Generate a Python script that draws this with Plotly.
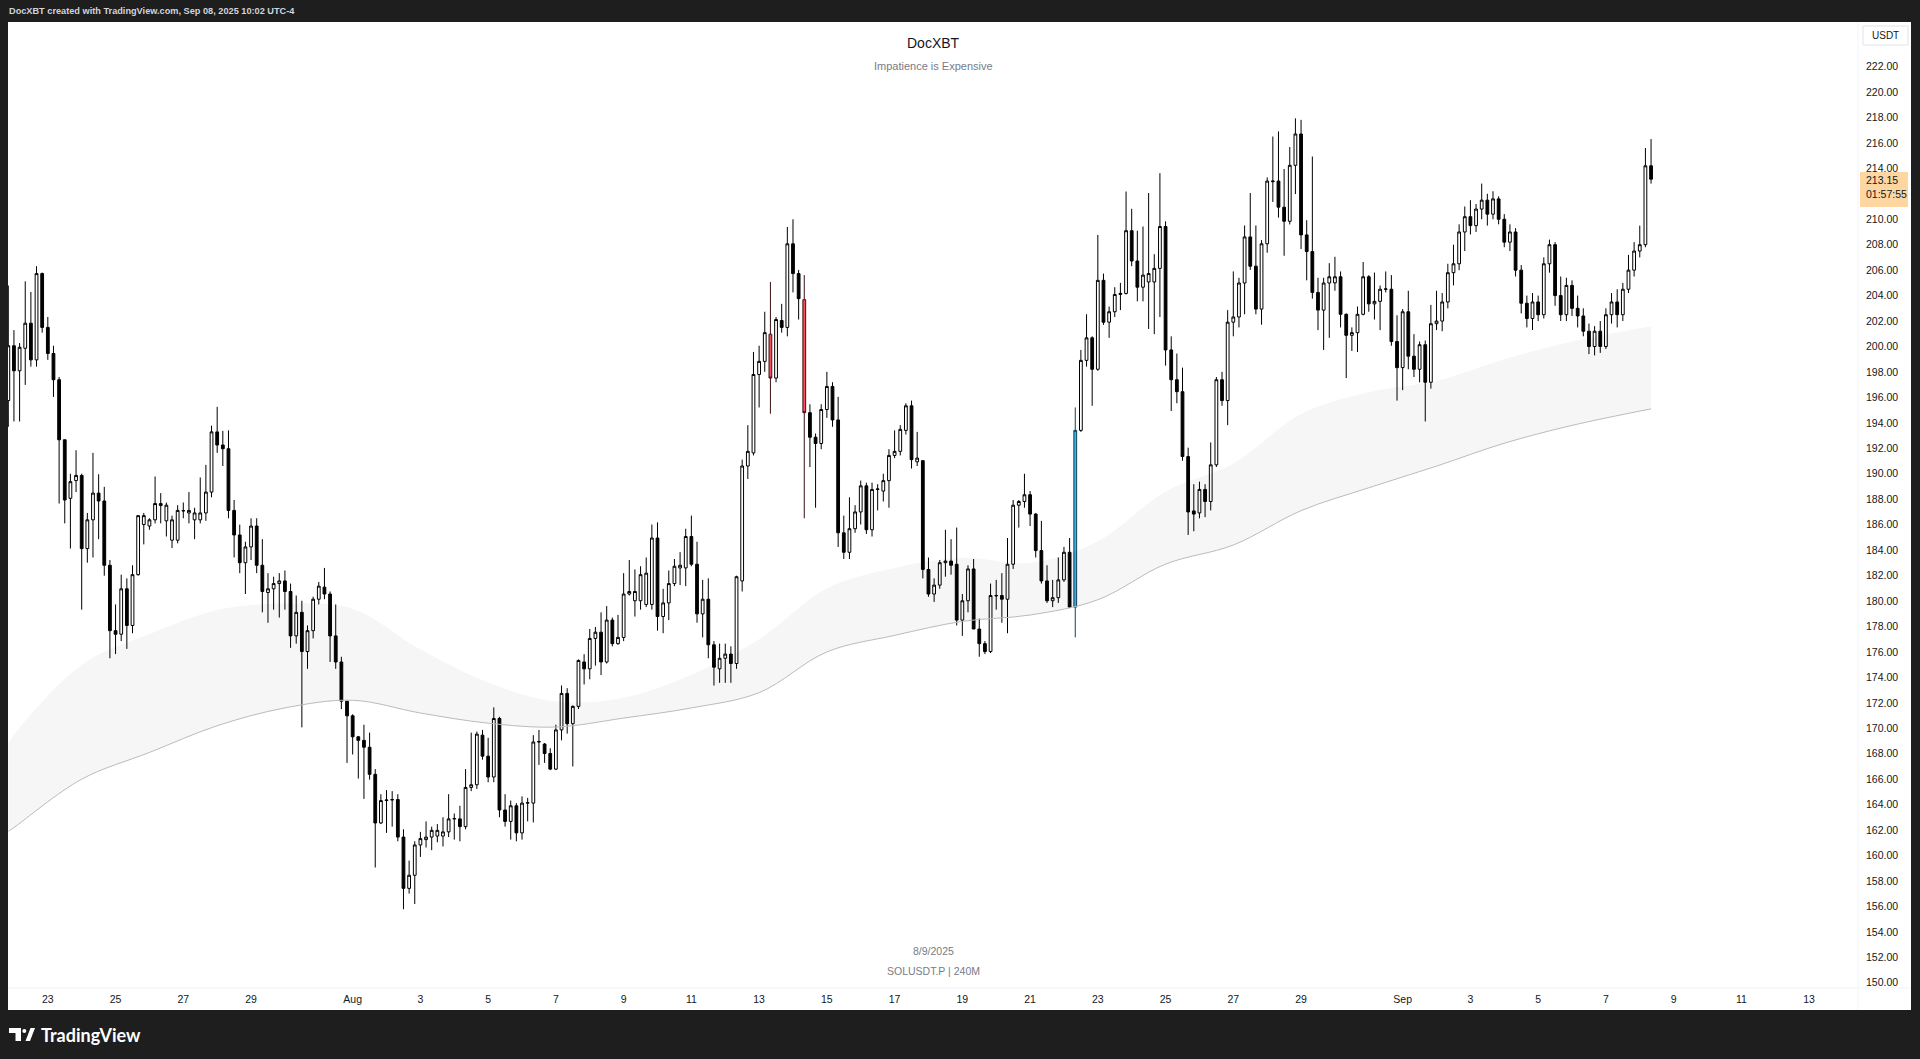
import pandas as pd
import plotly.graph_objects as go

# ---------------- data (SOLUSDT.P, 4h candles) ----------------
START = "2025-07-21 20:00"

opens = [
195.75,200.06,198.09,199.86,201.83,198.95,205.73,201.5,199.45,197.39,
192.67,188.07,189.46,189.87,184.12,186.38,188.48,187.86,182.81,177.67,
177.39,180.96,178.08,182.07,186.01,185.89,186.38,187.5,186.3,184.78,
184.78,187.08,186.92,186.38,186.38,186.92,188.56,193.29,192.26,191.97,
187.12,185.19,183.01,184.25,185.89,182.81,180.67,180.96,181.37,181.58,
180.75,177.26,179.11,176.03,177.67,180.14,181.09,180.55,177.26,175.21,
172.13,170.98,169.33,169.05,168.51,166.38,162.56,164.32,164.36,164.4,
161.45,157.42,158.45,160.83,161.25,161.45,161.53,161.53,161.86,162.88,
162.88,162.27,165.35,165.56,169.46,167.81,166.17,170.77,163.58,162.68,
163.91,161.78,164.12,164.12,168.92,168.76,168.02,166.79,169.87,172.74,
170.36,171.72,175.21,174.67,177.06,177.55,175.21,178.5,176.65,177.14,
180.55,180.02,180.02,179.73,179.73,184.95,178.78,179.85,181.37,182.6,
182.6,185.07,182.89,178.99,180.14,176.56,174.67,175.5,175.83,175.09,
181.58,190.61,191.64,197.8,198.83,200.97,197.52,202.04,201.5,208.07,
205.73,203.68,194.8,192.87,192.38,195.05,196.86,194.23,185.36,183.83,
185.68,187.0,189.05,185.6,188.77,188.64,189.46,191.44,191.76,193.41,
195.34,190.94,191.03,182.48,180.55,181.25,183.01,183.14,182.89,178.5,
180.02,182.52,177.8,176.65,176.03,180.4,180.43,180.14,182.89,187.53,
187.82,188.35,186.83,183.96,181.58,180.02,180.26,181.66,183.83,179.52,
193.41,198.91,200.68,198.21,205.2,201.91,202.73,204.09,204.17,209.1,
206.72,204.66,205.07,205.07,206.14,209.43,199.73,197.39,196.45,191.35,
187.08,186.92,188.77,187.82,190.7,197.39,195.75,201.91,202.32,204.99,
208.61,206.31,202.94,208.07,212.95,213.0,210.95,209.84,214.24,216.7,
208.77,207.46,204.25,202.86,204.99,205.0,205.48,202.53,200.88,201.09,
202.53,205.48,203.35,203.55,204.5,204.5,200.39,198.34,202.73,199.24,
198.21,200.14,197.19,201.79,202.0,203.5,205.8,206.5,209.0,210.2,
209.5,210.8,211.5,210.4,211.6,210.0,208.2,209.0,206.0,203.4,
202.2,203.5,202.5,206.5,208.0,204.0,202.5,204.8,203.0,202.4,
201.2,200.0,201.2,200.0,202.5,203.5,202.5,204.5,206.0,207.5,
208.0,214.2]

highs = [
204.79,201.29,200.27,205.12,204.29,206.31,205.81,202.32,200.06,197.6,
192.67,190.0,191.85,190.0,186.92,191.64,189.96,188.97,183.22,179.73,
182.07,181.78,182.81,186.71,186.92,186.5,189.79,188.48,187.74,186.71,
187.53,187.74,188.56,187.33,189.71,190.7,193.78,195.26,193.37,193.41,
187.94,186.0,184.66,186.5,186.5,184.86,182.19,181.91,182.19,182.4,
181.37,180.43,180.02,178.08,180.34,181.5,182.6,180.75,179.73,175.62,
172.13,171.1,169.4,170.28,169.66,166.79,164.82,165.14,165.06,164.82,
162.06,159.6,161.12,161.86,162.68,162.27,162.47,163.01,164.82,163.3,
163.91,166.79,169.66,169.74,169.87,169.25,171.64,170.9,164.82,164.32,
164.12,164.65,164.53,169.46,169.87,168.84,168.43,170.28,173.36,173.15,
171.8,175.41,175.82,177.8,177.96,179.11,179.6,178.7,178.91,182.19,
183.22,182.48,182.73,183.42,186.01,186.18,180.96,182.4,183.3,183.84,
185.68,186.71,184.66,181.66,181.78,176.85,176.65,176.65,176.44,181.99,
191.11,193.82,199.57,200.06,202.73,205.07,202.32,203.35,209.39,210.0,
206.02,205.61,195.46,193.16,195.46,198.01,197.19,196.04,186.71,188.15,
187.53,189.46,189.3,189.3,189.18,190.0,191.93,193.41,193.82,195.54,
195.75,193.29,191.03,183.42,181.78,183.22,185.6,184.86,185.77,180.55,
182.81,183.3,178.62,176.85,181.37,181.66,182.19,184.95,187.94,187.94,
190.0,188.64,186.92,186.3,182.81,181.66,183.42,184.25,184.95,195.21,
199.73,202.53,200.8,208.77,205.73,203.14,204.66,205.0,212.18,210.82,
209.1,209.43,212.06,207.25,213.62,209.84,200.8,199.45,198.34,192.05,
189.18,189.38,189.18,192.46,197.6,198.01,202.86,205.9,205.4,209.51,
212.06,209.51,208.36,213.29,216.5,216.9,213.95,215.67,217.93,217.81,
209.92,214.93,205.4,205.4,206.55,207.05,205.9,202.6,201.5,203.14,
206.64,205.61,205.81,204.79,205.9,205.61,202.45,202.94,204.38,200.97,
200.39,200.47,203.27,204.38,204.2,206.5,208.0,209.6,211.0,211.5,
211.2,212.8,212.0,212.2,211.8,210.4,209.6,209.3,206.4,204.0,
204.2,204.0,207.0,208.4,208.2,205.5,205.4,205.2,204.0,203.0,
201.8,201.6,202.0,203.0,204.2,204.5,205.0,207.2,208.2,209.5,
215.6,216.3]

lows = [
193.69,194.11,194.11,196.98,198.42,198.42,201.09,198.95,196.04,187.66,
186.1,184.12,188.56,179.32,183.01,183.42,184.86,181.99,175.5,175.83,
176.85,176.24,177.47,181.99,184.45,185.6,186.1,186.1,185.07,184.16,
184.53,186.5,186.1,184.86,186.1,186.3,188.15,191.64,190.61,186.5,
183.42,182.19,180.55,183.22,182.19,179.11,178.29,179.32,178.7,179.32,
176.32,176.65,170.07,174.67,177.06,179.73,180.14,175.21,174.67,171.51,
167.28,167.94,166.05,164.45,165.96,159.06,162.47,161.78,162.27,161.12,
155.78,157.01,156.19,159.89,160.63,160.42,161.04,160.71,161.45,161.25,
161.12,162.06,165.06,165.23,167.53,165.76,165.76,163.01,162.27,161.25,
161.12,161.25,162.68,162.6,167.12,167.28,166.71,166.71,169.05,169.58,
167.0,171.51,173.44,173.85,174.92,174.18,175.09,176.44,176.56,176.85,
180.43,178.78,179.32,179.52,179.32,177.67,177.47,178.5,181.17,181.25,
181.17,182.73,178.29,177.14,175.5,173.36,173.57,173.57,173.57,174.67,
180.75,189.59,191.44,195.21,198.01,194.72,197.19,201.09,200.8,204.25,
202.12,186.5,190.53,187.33,191.93,194.39,193.69,184.25,183.3,183.3,
185.36,186.01,185.27,185.07,187.12,187.82,187.33,191.23,191.44,193.08,
190.41,190.61,181.78,180.34,179.93,180.96,181.91,182.07,178.08,177.26,
179.11,177.8,175.62,175.83,175.91,179.32,178.29,177.47,182.52,185.77,
187.33,185.89,183.42,181.37,179.85,179.52,179.85,181.5,179.44,177.14,
193.29,198.42,195.34,198.09,201.7,200.68,202.32,202.86,204.09,206.31,
203.55,203.55,201.38,200.97,202.32,198.5,194.93,195.54,191.03,185.19,
185.48,186.5,186.59,187.12,190.53,195.34,193.82,200.8,201.5,202.53,
206.02,202.53,201.71,207.37,211.36,210.13,207.13,209.59,211.98,207.66,
205.2,203.76,201.29,199.73,200.68,204.38,201.5,197.52,199.65,199.57,
202.45,202.73,202.12,201.29,204.25,200.06,195.75,196.57,198.21,197.6,
197.19,194.11,196.69,201.29,201.2,203.0,204.8,206.0,207.5,208.8,
209.0,210.0,209.5,210.0,209.6,207.8,207.5,205.5,202.6,201.5,
201.3,202.0,202.2,205.8,203.2,202.0,202.0,202.4,201.5,200.8,
199.4,199.3,199.5,199.8,201.8,201.5,202.0,204.2,205.5,207.0,
207.8,212.8]

closes = [
200.06,198.09,199.94,201.83,198.95,205.73,201.5,199.45,197.39,192.67,
187.94,189.38,189.87,184.12,186.38,188.48,187.86,182.81,177.67,177.39,
180.96,178.08,182.07,186.71,186.71,186.38,187.66,187.66,187.53,186.38,
187.12,187.1,187.12,186.92,186.92,188.56,193.29,192.26,191.97,187.12,
185.19,183.01,184.25,185.89,182.81,180.75,180.96,181.37,181.58,180.75,
177.26,179.11,176.03,177.67,180.14,181.17,180.55,177.26,175.21,172.13,
170.98,169.33,169.05,168.51,166.38,162.56,164.32,164.36,164.4,161.45,
157.42,158.45,160.83,161.33,161.45,161.98,161.98,161.86,162.88,162.9,
162.27,165.35,165.56,169.54,167.81,166.17,170.77,163.58,162.68,163.91,
161.78,164.12,164.15,168.92,168.95,168.02,166.79,169.87,172.74,170.36,
171.72,175.33,174.67,177.06,177.55,175.21,178.5,176.65,177.14,180.55,
180.75,180.75,182.07,182.19,184.95,178.78,179.85,181.37,182.73,182.81,
185.07,182.89,178.99,180.14,176.56,174.8,175.5,175.83,175.09,181.91,
190.61,191.76,197.8,198.83,201.09,197.52,202.12,201.5,208.07,205.73,
203.76,194.8,192.87,192.38,195.05,196.86,194.23,185.36,183.83,185.68,
187.0,189.05,185.6,188.77,188.8,189.46,191.44,191.76,193.49,195.34,
191.11,191.23,182.48,180.55,181.25,183.01,183.14,182.81,178.5,180.02,
182.52,177.8,176.65,176.03,180.43,180.43,180.14,182.89,187.53,187.82,
188.35,186.83,183.96,181.58,180.02,180.26,181.66,183.83,179.52,193.41,
198.91,200.68,198.21,205.2,201.91,202.73,204.09,204.17,209.1,206.72,
204.66,205.61,205.73,206.14,209.43,199.73,197.39,196.45,191.35,187.0,
186.83,188.77,187.82,190.7,197.39,195.75,201.91,202.32,204.99,208.61,
206.31,202.94,208.07,213.0,213.0,210.95,209.84,214.24,216.7,208.77,
207.46,204.25,202.86,204.99,205.48,205.48,202.53,200.88,201.09,202.53,
205.48,203.35,203.55,204.5,204.52,200.39,198.34,202.73,199.24,198.21,
200.14,197.19,201.79,202.0,203.5,205.8,206.5,209.0,210.2,209.5,
210.8,211.5,210.4,211.6,210.0,208.2,209.0,206.0,203.4,202.2,
203.5,202.5,206.5,208.0,204.0,202.5,204.8,203.0,202.4,201.2,
200.0,201.2,200.0,202.5,203.5,202.5,204.5,206.0,207.5,208.0,
214.2,213.15]

red_idx = [135, 141]
blue_idx = [189]

band_times = ["2025-07-21 20:00", "2025-07-22", "2025-07-24", "2025-07-26", "2025-07-28",
              "2025-07-30", "2025-08-01", "2025-08-03", "2025-08-05", "2025-08-07",
              "2025-08-09", "2025-08-11", "2025-08-13", "2025-08-15", "2025-08-17",
              "2025-08-19", "2025-08-21", "2025-08-23", "2025-08-25", "2025-08-27",
              "2025-08-29", "2025-08-31", "2025-09-02", "2025-09-04", "2025-09-06",
              "2025-09-08 08:00"]
band_upper = [168.8, 169.5, 175.0, 177.4, 179.3, 179.8, 179.4, 176.2, 173.6, 172.1,
              172.4, 174.2, 177.0, 181.0, 182.6, 183.4, 183.0, 184.7, 188.6, 190.8,
              194.7, 196.4, 197.3, 199.0, 200.4, 201.6]
band_lower = [161.9, 162.2, 166.0, 168.1, 170.2, 171.6, 172.2, 171.2, 170.4, 170.1,
              170.8, 171.6, 172.8, 176.0, 177.3, 178.4, 178.9, 180.1, 182.9, 184.4,
              187.1, 188.9, 190.6, 192.4, 193.8, 195.1]

x_tick_dates = ["2025-07-23", "2025-07-25", "2025-07-27", "2025-07-29", "2025-08-01",
                "2025-08-03", "2025-08-05", "2025-08-07", "2025-08-09", "2025-08-11",
                "2025-08-13", "2025-08-15", "2025-08-17", "2025-08-19", "2025-08-21",
                "2025-08-23", "2025-08-25", "2025-08-27", "2025-08-29", "2025-09-01",
                "2025-09-03", "2025-09-05", "2025-09-07", "2025-09-09", "2025-09-11",
                "2025-09-13"]
x_tick_text = ["23", "25", "27", "29", "Aug", "3", "5", "7", "9", "11", "13", "15", "17",
               "19", "21", "23", "25", "27", "29", "Sep", "3", "5", "7", "9", "11", "13"]
y_tick_vals = [v for v in range(150, 223, 2) if v != 212]
y_tick_text = [f"{v:.2f}" for v in y_tick_vals]

last_price = "213.15"
countdown = "01:57:55"

# ---------------- figure ----------------
W, H = 1920, 1059
L, R, T, B = 8, 1858, 22, 988     # plot area in pixels


def px(x):
    return (x - L) / (R - L)


def py(y):
    return (B - y) / (B - T)


times = pd.date_range(START, periods=len(opens), freq="4h")
special = set(red_idx) | set(blue_idx)


def masked(arr, keep):
    return [v if i in keep else None for i, v in enumerate(arr)]


all_idx = set(range(len(opens)))
main_keep = all_idx - special

FONT = "Liberation Sans"
TXT = "#131722"

fig = go.Figure()

# moving-average band
fig.add_trace(go.Scatter(x=band_times, y=band_lower, mode="lines",
                         line=dict(color="rgba(0,0,0,0)", width=0, shape="spline"),
                         hoverinfo="skip", showlegend=False))
fig.add_trace(go.Scatter(x=band_times, y=band_upper, mode="lines", fill="tonexty",
                         fillcolor="rgba(0,0,0,0.035)",
                         line=dict(color="rgba(0,0,0,0)", width=0, shape="spline"),
                         hoverinfo="skip", showlegend=False))
fig.add_trace(go.Scatter(x=band_times, y=band_lower, mode="lines",
                         line=dict(color="#b8bbc2", width=1, shape="spline"),
                         hoverinfo="skip", showlegend=False))


def candle(keep, up_fill, down_fill, edge="#000000"):
    return go.Candlestick(
        x=times,
        open=masked(opens, keep), high=masked(highs, keep),
        low=masked(lows, keep), close=masked(closes, keep),
        increasing=dict(fillcolor=up_fill, line=dict(color=edge, width=1)),
        decreasing=dict(fillcolor=down_fill, line=dict(color=edge, width=1)),
        whiskerwidth=0, hoverinfo="skip", showlegend=False)


fig.add_trace(candle(main_keep, "#ffffff", "#000000"))
fig.add_trace(candle(set(red_idx), "#f7525f", "#f7525f", "#3a1014"))
fig.add_trace(candle(set(blue_idx), "#33b5f0", "#33b5f0", "#12405a"))

shapes = [
    # white chart panel
    dict(type="rect", xref="paper", yref="paper", layer="below",
         x0=px(8), x1=px(1911), y0=py(1010), y1=py(22),
         fillcolor="#ffffff", line=dict(width=0)),
    # scale separators
    dict(type="line", xref="paper", yref="paper", x0=px(R), x1=px(R), y0=py(1010), y1=py(22),
         line=dict(color="#f0f3fa", width=1)),
    dict(type="line", xref="paper", yref="paper", x0=px(8), x1=px(1911), y0=py(B), y1=py(B),
         line=dict(color="#f0f3fa", width=1)),
    # last-price label
    dict(type="rect", xref="paper", yref="paper", x0=px(1860), x1=px(1908),
         y0=py(207), y1=py(172), fillcolor="#fdd6a1", line=dict(width=0)),
    # USDT box
    dict(type="rect", xref="paper", yref="paper", x0=px(1863), x1=px(1908),
         y0=py(45), y1=py(26), fillcolor="#ffffff", line=dict(color="#e0e3eb", width=1)),
]

# TradingView logo glyph


def path(pts):
    return "M " + " L ".join(f"{px(a):.6f},{py(b):.6f}" for a, b in pts) + " Z"


shapes.append(dict(type="path", xref="paper", yref="paper",
                   path=path([(9, 1028), (21, 1028), (21, 1041), (15.5, 1041), (15.5, 1033), (9, 1033)]),
                   fillcolor="#ffffff", line=dict(width=0)))
shapes.append(dict(type="circle", xref="paper", yref="paper",
                   x0=px(22.3), x1=px(26.3), y0=py(1033), y1=py(1029),
                   fillcolor="#ffffff", line=dict(width=0)))
shapes.append(dict(type="path", xref="paper", yref="paper",
                   path=path([(25.5, 1041), (30.5, 1028), (35, 1028), (30, 1041)]),
                   fillcolor="#ffffff", line=dict(width=0)))

annotations = [
    dict(text="<b>DocXBT created with TradingView.com, Sep 08, 2025 10:02 UTC-4</b>",
         x=px(7), y=py(11.5), xanchor="left", yanchor="middle",
         font=dict(family=FONT, size=9.2, color="#d1d4dc")),
    dict(text="DocXBT", x=px(933), y=py(43), xanchor="center", yanchor="middle",
         font=dict(family=FONT, size=14, color=TXT)),
    dict(text="Impatience is Expensive", x=px(933), y=py(66), xanchor="center",
         yanchor="middle", font=dict(family=FONT, size=11, color="#787b86")),
    dict(text="8/9/2025", x=px(933), y=py(951), xanchor="center", yanchor="middle",
         font=dict(family=FONT, size=10.5, color="#787b86")),
    dict(text="SOLUSDT.P | 240M", x=px(933), y=py(971), xanchor="center", yanchor="middle",
         font=dict(family=FONT, size=10.5, color="#787b86")),
    dict(text="USDT", x=px(1885.5), y=py(35.5), xanchor="center", yanchor="middle",
         font=dict(family=FONT, size=10, color=TXT)),
    dict(text=last_price, x=px(1864), y=py(180), xanchor="left", yanchor="middle",
         font=dict(family=FONT, size=10.5, color=TXT)),
    dict(text=countdown, x=px(1864), y=py(194), xanchor="left", yanchor="middle",
         font=dict(family=FONT, size=10.5, color=TXT)),
    dict(text="<b>TradingView</b>", x=px(39), y=py(1035), xanchor="left", yanchor="middle",
         font=dict(family="Lato", size=18, color="#ffffff")),
]
for a in annotations:
    a.update(xref="paper", yref="paper", showarrow=False)

fig.update_layout(
    width=W, height=H,
    margin=dict(l=L, r=W - R, t=T, b=H - B, pad=0),
    paper_bgcolor="#1e1e1e", plot_bgcolor="#ffffff",
    showlegend=False, hovermode=False,
    boxgap=0.3,
    shapes=shapes, annotations=annotations,
    xaxis=dict(type="date", range=["2025-07-21 19:47", "2025-09-14 10:38"],
               tickmode="array", tickvals=x_tick_dates, ticktext=x_tick_text,
               showgrid=False, zeroline=False, showline=False, ticks="",
               ticklabelstandoff=3,
               tickfont=dict(family=FONT, size=10.5, color=TXT),
               rangeslider=dict(visible=False), fixedrange=True),
    yaxis=dict(side="right", range=[149.59, 225.5], tickmode="array",
               tickvals=y_tick_vals, ticktext=y_tick_text,
               showgrid=False, zeroline=False, showline=False, ticks="",
               ticklabelstandoff=7,
               tickfont=dict(family=FONT, size=10.5, color=TXT), fixedrange=True),
)

fig.write_html("out.html",
               config={"displayModeBar": False, "staticPlot": True},
               post_script="document.body.style.margin='0';document.body.style.overflow='hidden';")
